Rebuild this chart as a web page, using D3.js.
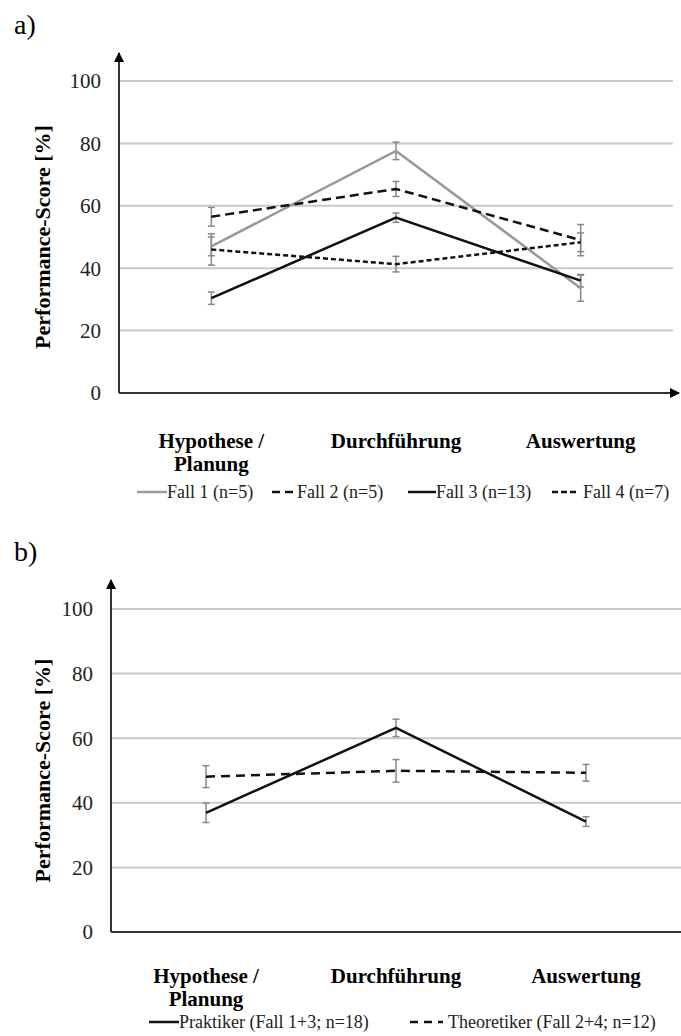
<!DOCTYPE html>
<html>
<head>
<meta charset="utf-8">
<script src="https://cdn.jsdelivr.net/npm/d3@7"></script>
<style>
  body { margin: 0; background: #fff; }
</style>
</head>
<body>
<div id="chart"></div>
<script>
const categories = ["Hypothese / Planung", "Durchführung", "Auswertung"]
const yTicks = [0, 20, 40, 60, 80, 100]

// panel a
const fall1 = [47, 77.6, 33.6]
const fall1Err = [3, 2.8, 4.2]
const fall2 = [56.5, 65.4, 49]
const fall2Err = [3, 2.4, 5]
const fall3 = [30.4, 56.2, 36]
const fall3Err = [2, 1.5, 2]
const fall4 = [46, 41.3, 48.3]
const fall4Err = [5, 2.5, 3]

// panel b
const praktiker = [36.9, 63.2, 34.2]
const praktikerErr = [3, 2.7, 1.5]
const theoretiker = [48.1, 49.9, 49.3]
const theoretikerErr = [3.4, 3.5, 2.6]

const FONT = '"Liberation Serif"'

const svg = d3.select("#chart").append("svg")
    .attr("width", 681)
    .attr("height", 1036)
    .style("font-family", FONT)

const defs = svg.append("defs")
defs.append("marker")
    .attr("id", "arrow")
    .attr("viewBox", "0 0 10 10")
    .attr("refX", 9).attr("refY", 5)
    .attr("markerWidth", 5).attr("markerHeight", 5)
    .attr("markerUnits", "strokeWidth")
    .attr("orient", "auto")
    .append("path")
    .attr("d", "M0,0 L10,5 L0,10 z")
    .attr("fill", "#000")

function panel(opt) {
    const g = svg.append("g")
    const x = d3.scaleBand().domain(categories).range([opt.left, opt.right])
    const y = d3.scaleLinear().domain([0, 100]).range([opt.bottom, opt.top])

    g.append("text")
        .attr("x", 14).attr("y", opt.labelY)
        .style("font-family", FONT)
        .style("font-size", "28px")
        .text(opt.label)

    // gridlines
    g.selectAll(".grid")
        .data(yTicks.filter(d => d > 0))
        .join("line")
        .attr("x1", opt.left).attr("x2", opt.gridRight)
        .attr("y1", d => y(d)).attr("y2", d => y(d))
        .attr("stroke", "#c9c9c9")
        .attr("stroke-width", 2)

    // y tick labels
    g.selectAll(".ytick")
        .data(yTicks)
        .join("text")
        .attr("x", opt.left - 18)
        .attr("y", d => y(d))
        .attr("dy", "0.35em")
        .attr("text-anchor", "end")
        .style("font-family", FONT)
        .style("font-size", "21px")
        .style("fill", "#222")
        .text(d => d)

    g.append("text")
        .attr("transform", `translate(42,${(y(0) + y(100)) / 2}) rotate(-90)`)
        .attr("text-anchor", "middle")
        .attr("dy", "0.35em")
        .style("font-family", FONT)
        .style("font-size", "22px")
        .style("font-weight", "bold")
        .text("Performance-Score [%]")

    // axes with arrows
    g.append("line")
        .attr("x1", opt.left).attr("x2", opt.left)
        .attr("y1", y(0)).attr("y2", opt.arrowTop)
        .attr("stroke", "#333").attr("stroke-width", 2)
        .attr("marker-end", "url(#arrow)")
    const xAxis = g.append("line")
        .attr("x1", opt.left).attr("x2", opt.axisRight)
        .attr("y1", y(0)).attr("y2", y(0))
        .attr("stroke", "#333").attr("stroke-width", 2)
    if (opt.xArrow) xAxis.attr("marker-end", "url(#arrow)")

    // category labels, first part on one line, rest below
    categories.forEach(c => {
        const parts = c.replace(" / ", " /|").split("|")
        parts.forEach((p, i) => {
            g.append("text")
                .attr("x", x(c) + x.bandwidth() / 2)
                .attr("y", y(0) + opt.catOffset + i * 23)
                .attr("text-anchor", "middle")
                .style("font-family", FONT)
                .style("font-size", "21px")
                .style("font-weight", "bold")
                .text(p)
        })
    })

    const line = d3.line()
        .x((v, i) => x(categories[i]) + x.bandwidth() / 2)
        .y(v => y(v))

    // error bars first, then lines
    opt.series.forEach(s => {
        const eb = g.append("g")
        s.values.forEach((v, i) => {
            const cx = x(categories[i]) + x.bandwidth() / 2
            const e = s.err[i]
            eb.append("line")
                .attr("x1", cx).attr("x2", cx)
                .attr("y1", y(v - e)).attr("y2", y(v + e))
                .attr("stroke", "#888").attr("stroke-width", 1.5)
            ;[v - e, v + e].forEach(t => {
                eb.append("line")
                    .attr("x1", cx - 3.5).attr("x2", cx + 3.5)
                    .attr("y1", y(t)).attr("y2", y(t))
                    .attr("stroke", "#888").attr("stroke-width", 1.5)
            })
        })
    })
    opt.series.forEach(s => {
        g.append("path")
            .datum(s.values)
            .attr("d", line)
            .attr("fill", "none")
            .attr("stroke", s.color)
            .attr("stroke-width", 2.5)
            .attr("stroke-dasharray", s.dash)
    })

    // legend
    const leg = g.append("g")
    opt.series.forEach(s => {
        leg.append("line")
            .attr("x1", s.lx).attr("x2", s.lx + s.lw)
            .attr("y1", opt.legendY).attr("y2", opt.legendY)
            .attr("stroke", s.color)
            .attr("stroke-width", 2.5)
            .attr("stroke-dasharray", s.legendDash || s.dash)
        leg.append("text")
            .attr("x", s.lx + s.lw + (s.gap || 0))
            .attr("y", opt.legendY)
            .attr("dy", "0.35em")
            .style("font-family", FONT)
            .style("font-size", "18px")
            .style("fill", "#222")
            .text(s.name)
    })
}

panel({
    label: "a)", labelY: 34,
    left: 119, right: 673, gridRight: 673, axisRight: 679, xArrow: true,
    top: 81, bottom: 393, arrowTop: 53, catOffset: 55,
    legendY: 492,
    series: [
        { name: "Fall 1 (n=5)", values: fall1, err: fall1Err, color: "#999", dash: null, lx: 137, lw: 30 },
        { name: "Fall 2 (n=5)", values: fall2, err: fall2Err, color: "#111", dash: "9,5", legendDash: "8,5", lx: 272, lw: 21, gap: 4 },
        { name: "Fall 3 (n=13)", values: fall3, err: fall3Err, color: "#111", dash: null, lx: 408, lw: 28 },
        { name: "Fall 4 (n=7)", values: fall4, err: fall4Err, color: "#111", dash: "5,3", legendDash: "6,3", lx: 552, lw: 27, gap: 4 }
    ]
})

panel({
    label: "b)", labelY: 561,
    left: 111, right: 681, gridRight: 681, axisRight: 681, xArrow: false,
    top: 609, bottom: 932, arrowTop: 580, catOffset: 51,
    legendY: 1022,
    series: [
        { name: "Praktiker (Fall 1+3; n=18)", values: praktiker, err: praktikerErr, color: "#111", dash: null, lx: 149, lw: 30 },
        { name: "Theoretiker (Fall 2+4; n=12)", values: theoretiker, err: theoretikerErr, color: "#111", dash: "9,6", legendDash: "8,6", lx: 410, lw: 33, gap: 5 }
    ]
})
</script>
</body>
</html>
